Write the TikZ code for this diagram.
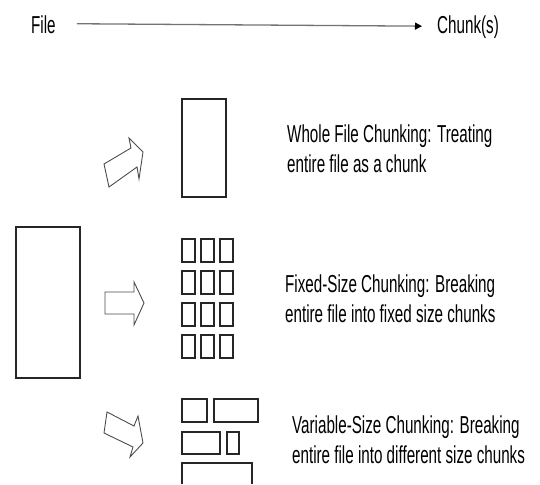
\documentclass[tikz,border=0pt]{standalone}
\usepackage{fontspec}
\setmainfont[FakeStretch=0.62]{Liberation Sans}
\usetikzlibrary{arrows.meta}
\begin{document}
\begin{tikzpicture}[x=1pt,y=-1pt,
  lbl/.style={inner sep=0pt, font=\fontsize{24.5}{30}\selectfont, align=left, anchor=base west},
  box/.style={draw=black!85, line width=1.2pt},
  blockarrow/.style={draw=black!70, line width=0.9pt, line join=miter, fill=white}]
\useasboundingbox (0,0) rectangle (540,484);
% header
\node[lbl] (file) at (31,34) {File};
\node[lbl] (chunks) at (437,34) {Chunk(s)};
\draw[black!55, line width=1.3pt, -{Triangle[length=7pt,width=7pt,color=black]}]
  ([xshift=21pt,yshift=1.5pt]file.east) -- ([xshift=-15pt,yshift=1.5pt]chunks.west);
% file
\draw[box] (16,227) rectangle (80,378);
% block arrows
\draw[blockarrow] (104,164) -- (131,148) -- (129,138) -- (143,152) -- (139,179) -- (137,167) -- (109,187) -- cycle;
\draw[blockarrow] (105,292) -- (134,292) -- (134,282) -- (144,303) -- (134,325) -- (134,314) -- (105,314) -- cycle;
\draw[blockarrow] (107,412) -- (134,426) -- (138,416) -- (143,443) -- (130,457) -- (133,447) -- (104,433) -- cycle;
% whole file chunk
\draw[box] (182,99) rectangle (226,197);
% fixed-size chunks
\foreach \cx in {182,201,220}
  \foreach \cy in {239,271,303,335}
    \draw[box] (\cx,\cy) rectangle ++(13,23);
% variable-size chunks
\draw[box] (182,399) rectangle (207,422);
\draw[box] (214,399) rectangle (258,422);
\draw[box] (182,432) rectangle (220,454);
\draw[box] (227,432) rectangle (239,454);
\draw[box] (182,484) -- (182,463) -- (252,463) -- (252,484);
% descriptions (base anchor = baseline of the last line)
\node[lbl] (whole) at (287,172) {Whole File Chunking: Treating\\entire file as a chunk};
\node[lbl] (fixed) at (285,322) {Fixed-Size Chunking: Breaking\\entire file into fixed size chunks};
\node[lbl] (variable) at (292,463) {Variable-Size Chunking: Breaking\\entire file into different size chunks};
\end{tikzpicture}
\end{document}
